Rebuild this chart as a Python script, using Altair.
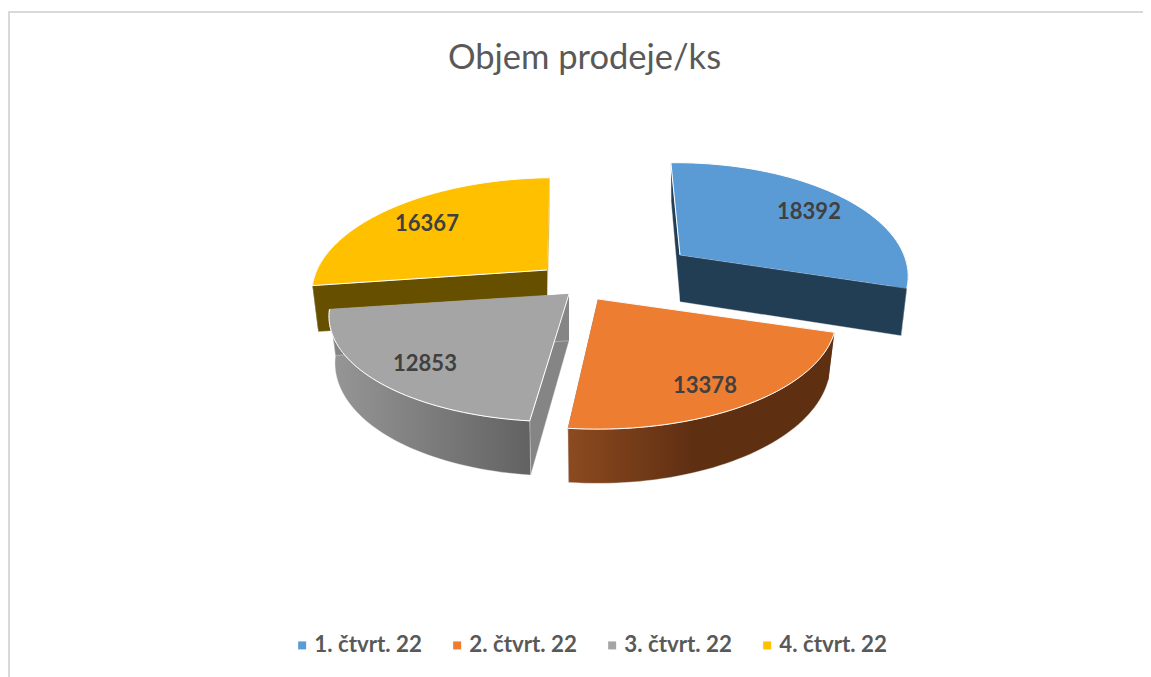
import math
import altair as alt
import pandas as pd

quarters = ["1. čtvrt. 22", "2. čtvrt. 22", "3. čtvrt. 22", "4. čtvrt. 22"]
values = [18392, 13378, 12853, 16367]
top_colors = ["#5b9bd5", "#ed7d31", "#a5a5a5", "#ffc000"]
title_text = "Objem prodeje/ks"

# layout of the exploded 3-D pie, in picture pixels
W, H = 1135, 669
OX, OY = 8, 8
apex = [(680, 255), (598, 299), (569, 294), (547, 270)]
radius_x = [224, 235, 235, 230]
radius_y = [108, 108, 106, 108]
skew = [28, -2, -47, -53]
label_pos = [(809, 212), (705, 386), (425, 364), (427, 224)]
PERSP, DEPTH, SHRINK = 0.17, 45, 0.975
START = -1.5

xs = alt.Scale(domain=[OX, OX + W], nice=False, zero=False)
ys = alt.Scale(domain=[OY + H, OY], nice=False, zero=False)
fill_scale = alt.Scale(domain=quarters, range=top_colors)
legend = alt.Legend(
    title=None, orient="none", legendX=283, legendY=626, direction="horizontal", columns=4,
    symbolType="square", symbolSize=64, symbolStrokeWidth=0, labelFont="Lato", labelFontWeight="bold",
    labelFontSize=22.3, labelColor="#595959", columnPadding=24, labelOffset=1, labelLimit=0,
)


def project(t, rx, ry, k):
    u, v = math.sin(t), -math.cos(t)
    s = 1 / (1 - PERSP * v)
    return rx * s * u + k * (s - 1), ry * s * v, s


def low(a, off):
    dx, dy, s = off
    return a[0] + dx * SHRINK, a[1] + dy + DEPTH * s


def poly(points):
    return pd.DataFrame({"x": [p[0] for p in points], "y": [p[1] for p in points], "i": range(len(points))})


def shape(points, fill, stroke=None, sw=0.8, quarter=None):
    kw = {"strokeWidth": sw, "stroke": stroke or "transparent"}
    df = poly(points)
    enc = dict(
        x=alt.X("x:Q", scale=xs, axis=None),
        y=alt.Y("y:Q", scale=ys, axis=None),
        order="i:Q",
    )
    if quarter is not None:
        df["q"] = quarter
        enc["fill"] = alt.Fill("q:N", scale=fill_scale, legend=legend)
    else:
        kw["fill"] = fill
    return alt.Chart(df).mark_line(**kw).encode(**enc)


def grad(stops):
    return alt.LinearGradient(gradient="linear", x1=0, x2=1, y1=0, y2=0,
                              stops=[alt.GradientStop(offset=o, color=c) for o, c in stops])


total = sum(values)
angles = []
a0 = START
for v in values:
    a1 = a0 + 360 * v / total
    angles.append((a0, a1))
    a0 = a1

STEPS = 48
side_styles = {
    0: dict(rim="#223e55", start="#223e55", end="#223e55"),
    1: dict(rim=grad([(0, "#8c4a1f"), (0.47, "#5f2f12"), (1, "#5f2f12")]), start="#5f2f12", end="#5f2f12"),
    2: dict(rim=grad([(0, "#979797"), (1, "#626262")]), start="#858585", end="#858585"),
    3: dict(rim="#665000", start="#665000", end="#d9a800"),
}

layers = []
# light frame of the picture
frame = poly([(9, 677), (9, 12), (1143, 12)])
layers.append(alt.Chart(frame).mark_line(stroke="#d9d9d9", strokeWidth=2).encode(
    x=alt.X("x:Q", scale=xs, axis=None), y=alt.Y("y:Q", scale=ys, axis=None), order="i:Q"))

for idx in [3, 2, 0, 1]:
    a = apex[idx]
    t0, t1 = (math.radians(d) for d in angles[idx])
    arc = [project(t0 + (t1 - t0) * k / STEPS, radius_x[idx], radius_y[idx], skew[idx]) for k in range(STEPS + 1)]
    up = [(a[0] + p[0], a[1] + p[1]) for p in arc]
    down = [low(a, p) for p in arc]
    lo_apex = (a[0], a[1] + DEPTH * 1.04)
    st = side_styles[idx]
    # outer rim: only the part that faces the viewer
    vis = [k for k, p in enumerate(arc) if math.cos(t0 + (t1 - t0) * k / STEPS) < 0.2]
    rim_up = [up[k] for k in vis]
    rim_down = [down[k] for k in vis]
    start_face = [a, up[0], down[0], lo_apex]
    end_face = [a, up[-1], down[-1], lo_apex]
    pieces = []
    if rim_up:
        pieces.append((rim_up + rim_down[::-1], st["rim"]))
    pieces.append((start_face, st["start"]))
    pieces.append((end_face, st["end"]))
    if idx == 1:
        pieces = pieces[1:] + pieces[:1]
    for pts, fill in pieces:
        layers.append(shape(pts, fill, stroke="#e8e8e8", sw=0.4))
    layers.append(shape([a] + up, None, stroke="#ffffff", sw=1, quarter=quarters[idx]))

labels = pd.DataFrame({
    "x": [p[0] for p in label_pos], "y": [p[1] for p in label_pos], "v": [str(v) for v in values],
})
layers.append(alt.Chart(labels).mark_text(
    font="Lato", fontWeight="bold", fontSize=22, color="#404040", baseline="middle", align="center"
).encode(x=alt.X("x:Q", scale=xs, axis=None), y=alt.Y("y:Q", scale=ys, axis=None), text="v:N"))

chart = alt.layer(*layers).properties(
    width=W, height=H, padding=0, autosize=alt.AutoSizeParams(type="none"),
    title=alt.TitleParams(title_text, font="Lato", fontSize=34.5, fontWeight="normal", color="#595959",
                          anchor="middle", frame="group", offset=0, dy=68, dx=9),
).configure_view(stroke=None)

chart.save("out.html", embed_options={"renderer": "svg", "actions": False})
